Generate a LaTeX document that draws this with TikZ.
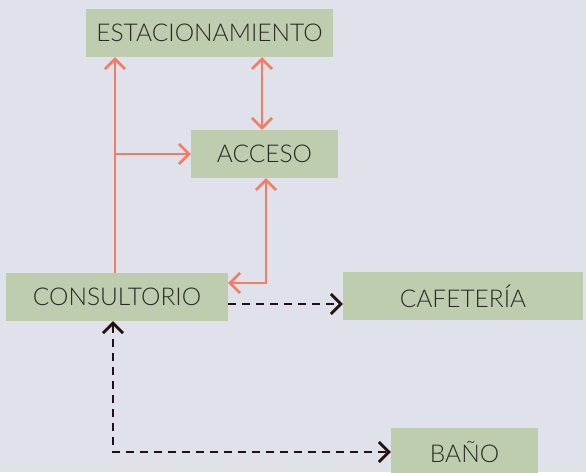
\documentclass[tikz,border=0pt]{standalone}
\usepackage{fontspec}
\IfFontExistsTF{Lato Light}{\setmainfont{Lato Light}}{\setmainfont{Lato}}
\usetikzlibrary{arrows.meta}
\definecolor{bg}{HTML}{DFE2EB}
\definecolor{boxfill}{HTML}{BDCDAD}
\definecolor{orangeline}{HTML}{F47C62}
\definecolor{darkline}{HTML}{24100F}
\definecolor{txt}{HTML}{2A2A2A}
\tikzset{
  box/.style={fill=boxfill, draw=none, inner sep=0pt, text=txt, font=\fontsize{24.5}{26}\selectfont},
  oline/.style={draw=orangeline, line width=2.6pt, -{Straight Barb[length=10pt,width=20pt,line width=2.6pt]}},
  oboth/.style={draw=orangeline, line width=2.6pt, {Straight Barb[length=10pt,width=20pt,line width=2.6pt]}-{Straight Barb[length=10pt,width=20pt,line width=2.6pt]}},
  dline/.style={draw=darkline, line width=2.8pt, dash pattern=on 8pt off 6pt, -{Straight Barb[length=10pt,width=20pt,line width=2.8pt]}},
  dboth/.style={draw=darkline, line width=2.8pt, dash pattern=on 8pt off 6pt, {Straight Barb[length=10pt,width=20pt,line width=2.8pt]}-{Straight Barb[length=10pt,width=20pt,line width=2.8pt]}},
}
\begin{document}
\begin{tikzpicture}[x=1pt,y=1pt,yscale=-1]
\useasboundingbox[fill=bg] (0,0) rectangle (586,472);
\node[box, minimum width=247pt, minimum height=48pt] (est) at (209.5,33) {ESTACIONAMIENTO};
\node[box, minimum width=147pt, minimum height=48pt] (acc) at (264.5,154) {ACCESO};
\node[box, minimum width=222pt, minimum height=48pt] (con) at (117,297) {CONSULTORIO};
\node[box, minimum width=240pt, minimum height=48pt] (caf) at (463,296) {CAFETERÍA};
\node[box, minimum width=147pt, minimum height=48pt] (ban) at (464.5,452) {BAÑO};
\coordinate (j1) at (115,154);
\coordinate (j2) at (262,0);
\coordinate (k) at (266,283);
\coordinate (d1) at (228,304);
\coordinate (d2) at (113,452);
\draw[oline] (con.north -| j1) -- (est.south -| j1);
\draw[oline] (j1) -- (acc.west);
\draw[oboth] (acc.north -| j2) -- (est.south -| j2);
\draw[oboth] (acc.south -| k) |- (con.east |- k);
\draw[dline] (con.east |- d1) -- (caf.west |- d1);
\draw[dboth] (con.south -| d2) |- (ban.west |- d2);
\end{tikzpicture}
\end{document}
